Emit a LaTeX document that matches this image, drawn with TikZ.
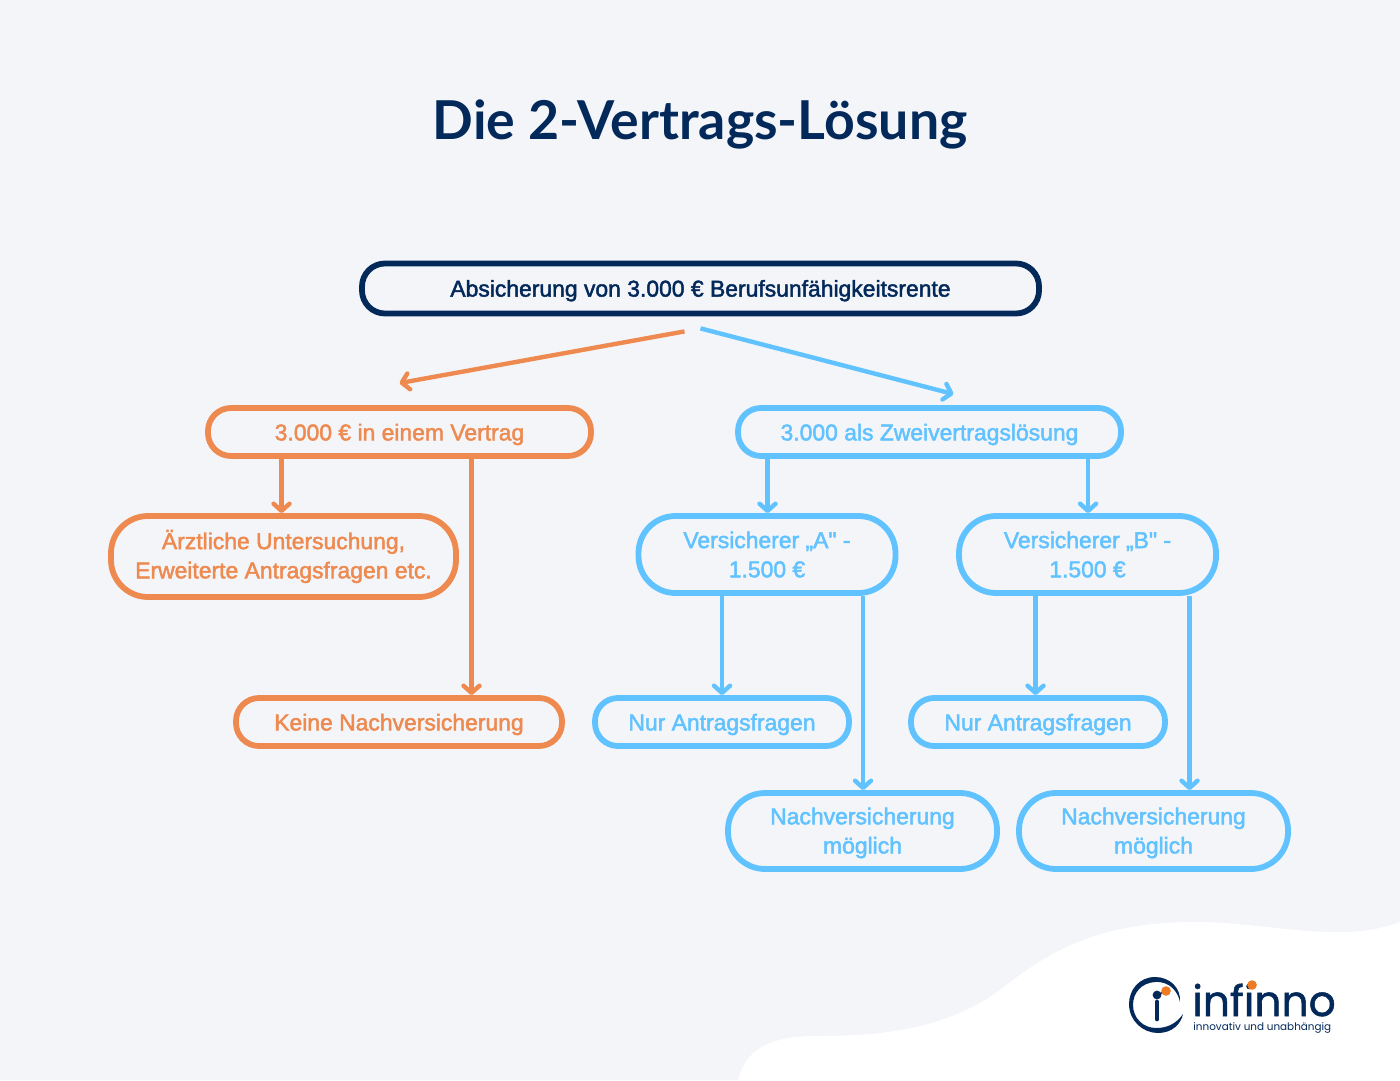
\documentclass[tikz,border=0pt]{standalone}
\usepackage{fontspec}
\usetikzlibrary{arrows.meta,calc}
\setmainfont{Liberation Sans}
\newfontfamily\boxfont[FakeBold=2]{Liberation Sans}
\newfontfamily\titlefont{Lato}[BoldFont=Lato Bold]
\newfontfamily\logofont[FakeBold=1.2]{Poppins}
\newfontfamily\tagfont{Poppins}
\definecolor{navy}{HTML}{03295A}
\definecolor{orng}{HTML}{EE8A50}
\definecolor{sky}{HTML}{60C2FF}
\definecolor{bgc}{HTML}{F3F5F9}
\definecolor{logoorange}{HTML}{EE7A22}
\tikzset{
  flowbox/.style={draw,line width=2.9pt,align=center,inner sep=0pt,font=\boxfont\fontsize{11.45}{14.6}\selectfont},
  smallbox/.style={flowbox,rounded corners=11.5pt,text height=8.4pt,text depth=0pt},
  bigbox/.style={flowbox,rounded corners=18.5pt},
  navybox/.style={smallbox,draw=navy,text=navy,text height=8.1pt},
  orngsmall/.style={smallbox,draw=orng,text=orng},
  orngbig/.style={bigbox,draw=orng,text=orng},
  skysmall/.style={smallbox,draw=sky,text=sky},
  skybig/.style={bigbox,draw=sky,text=sky},
  link/.style={line width=2.2pt,-{Straight Barb[length=3.6pt,width=8pt,line cap=round,line join=round]}},
  olink/.style={link,draw=orng},
  slink/.style={link,draw=sky}
}
\begin{document}
\begin{tikzpicture}[x=0.5pt,y=-0.5pt]
\useasboundingbox (0,0) rectangle (1400,1080);
\fill[bgc] (0,0) rectangle (1400,1080);
% white wave
\fill[white] (738,1080) .. controls (745,1050) and (770,1036) .. (815,1036)
  .. controls (880,1036) and (945,1030) .. (1000,990)
  .. controls (1050,950) and (1100,922) .. (1195,922)
  .. controls (1270,922) and (1340,945) .. (1400,922)
  -- (1400,1080) -- cycle;
% title
\node[inner sep=0pt,text=navy,font=\titlefont\bfseries\fontsize{26.8}{30}\selectfont] (title) at (700,124) {Die 2-Vertrags-Lösung};
% boxes
\node[navybox,minimum width=338.5pt,minimum height=25pt] (top) at (700.5,288.5) {Absicherung von 3.000 € Berufsunfähigkeitsrente};
\node[orngsmall,minimum width=191.5pt,minimum height=24pt] (oa) at (399.5,432) {3.000 € in einem Vertrag};
\node[orngbig,minimum width=172.5pt,minimum height=40.5pt] (ob) at (283.5,556.5) {Ärztliche Untersuchung,\\Erweiterte Antragsfragen etc.};
\node[orngsmall,minimum width=163pt,minimum height=24pt] (oc) at (399,722) {Keine Nachversicherung};
\node[skysmall,minimum width=191.5pt,minimum height=24pt] (sa) at (929.5,432) {3.000 als Zweivertragslösung};
\node[skybig,minimum width=128.5pt,minimum height=38.5pt] (va) at (767,554.5) {Versicherer „A" -\\1.500 €};
\node[skybig,minimum width=128.5pt,minimum height=38.5pt] (vb) at (1087.5,554.5) {Versicherer „B" -\\1.500 €};
\node[skysmall,minimum width=127pt,minimum height=24pt] (na) at (722,722) {Nur Antragsfragen};
\node[skysmall,minimum width=127pt,minimum height=24pt] (nb) at (1038,722) {Nur Antragsfragen};
\node[skybig,minimum width=134.5pt,minimum height=38pt,text depth=0.4pt] (ma) at (862.5,831) {Nachversicherung\\möglich};
\node[skybig,minimum width=134.5pt,minimum height=38pt,text depth=0.4pt] (mb) at (1153.5,831) {Nachversicherung\\möglich};
% connectors
\draw[olink] ([xshift=-8pt,yshift=-7.5pt]top.south) -- ([yshift=11pt]oa.north);
\draw[slink] ([xshift=0pt,yshift=-6pt]top.south) -- ([xshift=12pt,yshift=5.5pt]sa.north);
\draw[olink] ([xshift=-59pt]oa.south) -- ([xshift=-59pt]oa.south |- ob.north);
\draw[olink] ([xshift=36pt]oa.south) -- ([xshift=36pt]oa.south |- oc.north);
\draw[slink] ([xshift=-81pt]sa.south) -- ([xshift=-81pt]sa.south |- va.north);
\draw[slink] ([xshift=79.3pt]sa.south) -- ([xshift=79.3pt]sa.south |- vb.north);
\draw[slink] ([xshift=-22.5pt]va.south) -- ([xshift=-22.5pt]va.south |- na.north);
\draw[slink] ([xshift=48pt]va.south) -- ([xshift=48pt]va.south |- ma.north);
\draw[slink] ([xshift=-26pt]vb.south) -- ([xshift=-26pt]vb.south |- nb.north);
\draw[slink] ([xshift=51pt]vb.south) -- ([xshift=51pt]vb.south |- mb.north);
% logo
\fill[navy,even odd rule] (1155,977) .. controls (1139,977) and (1129,990) .. (1129,1004)
  .. controls (1129,1021) and (1143,1033) .. (1158,1033)
  .. controls (1172,1033) and (1181,1024) .. (1183,1014)
  .. controls (1176,1024) and (1167,1028) .. (1156,1028)
  .. controls (1143,1028) and (1133,1018) .. (1133,1005)
  .. controls (1133,993) and (1141,983) .. (1155,982)
  .. controls (1170,981) and (1178,992) .. (1180,1002)
  .. controls (1181,988) and (1170,977) .. (1155,977) -- cycle;
\draw[navy,line width=2.4pt,line cap=round] (1157,1002) -- (1157,1019);
\draw[navy,line width=0.7pt] (1157,995) -- (1166,991);
\fill[navy] (1157,995) circle (2.2pt);
\fill[logoorange] (1166,991) circle (2.4pt);
\node[inner sep=0pt,anchor=base west,text=navy,text depth=0pt,font=\logofont\fontsize{21.2}{24}\selectfont] (logo) at (1192,1016) {infinno};
\node[inner sep=0pt,anchor=base west,text=navy,font=\tagfont\fontsize{5.2}{7}\selectfont] (tag) at (1193,1030) {innovativ und unabhängig};
\fill[logoorange] (1252,985) circle (2.4pt);
\end{tikzpicture}
\end{document}
